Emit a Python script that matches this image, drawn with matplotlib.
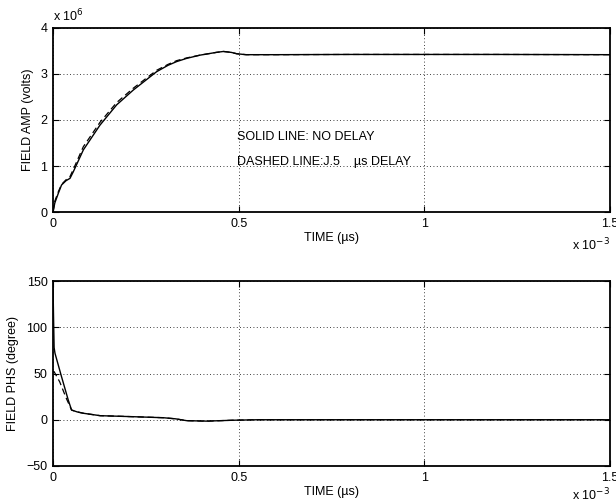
import matplotlib
matplotlib.use("Agg")
import matplotlib.pyplot as plt

plt.rcParams['font.family'] = ['Liberation Sans', 'DejaVu Sans']
plt.rcParams['font.size'] = 9

# Time in units of 1e-3 (as shown on the axis with "x 10^-3")
amp_t_solid = [0.0, 0.005, 0.0143, 0.023, 0.035, 0.0458, 0.0548, 0.0817, 0.1266, 0.1715,
               0.216, 0.279, 0.31, 0.333, 0.36, 0.396, 0.44, 0.459, 0.48, 0.495, 0.52, 0.6, 0.8, 1.0, 1.2, 1.5]
amp_v_solid = [0.0, 0.2, 0.406, 0.587, 0.68, 0.732, 0.877, 1.35, 1.89, 2.33,
               2.65, 3.05, 3.19, 3.27, 3.34, 3.41, 3.47, 3.49, 3.47, 3.44, 3.42, 3.42, 3.425, 3.425, 3.425, 3.42]
amp_t_dash = [0.0, 0.005, 0.0143, 0.023, 0.035, 0.0458, 0.0548, 0.0817, 0.1266, 0.1715,
              0.216, 0.279, 0.31, 0.333, 0.36, 0.396, 0.44, 0.459, 0.48, 0.495, 0.52, 0.6, 0.8, 1.0, 1.2, 1.5]
amp_v_dash = [0.0, 0.24, 0.44, 0.60, 0.70, 0.77, 0.93, 1.42, 1.95, 2.38,
              2.69, 3.08, 3.21, 3.29, 3.35, 3.41, 3.47, 3.49, 3.47, 3.44, 3.42, 3.42, 3.425, 3.425, 3.425, 3.42]

phs_t_solid = [0.0, 0.0015, 0.003, 0.0054, 0.023, 0.041, 0.050, 0.065, 0.082, 0.127, 0.216,
               0.297, 0.33, 0.36, 0.414, 0.486, 0.55, 0.8, 1.0, 1.5]
phs_v_solid = [145, 110, 78, 71.8, 46.5, 21.4, 10.5, 8.5, 7.0, 4.4, 3.3,
               2.2, 1.0, -1.0, -1.5, -0.5, 0.0, 0.0, 0.0, 0.0]
phs_t_dash = [0.0, 0.003, 0.018, 0.036, 0.050, 0.065, 0.082, 0.127, 0.216,
              0.297, 0.33, 0.36, 0.414, 0.486, 0.55, 0.8, 1.0, 1.5]
phs_v_dash = [52, 52, 41, 23, 10.5, 8.5, 7.0, 4.4, 3.3,
              2.2, 1.0, -1.0, -1.5, -0.5, 0.0, 0.0, 0.0, 0.0]

x_ticks = [0, 0.5, 1, 1.5]
x_tick_labels = ['0', '0.5', '1', '1.5']
amp_ticks = [0, 1, 2, 3, 4]
phs_ticks = [-50, 0, 50, 100, 150]
phs_tick_labels = ['\u221250', '0', '50', '100', '150']

W, H = 616, 504
fig = plt.figure(figsize=(W / 100, H / 100), dpi=100)

def px_axes(x0, y0, x1, y1):
    return fig.add_axes([x0 / W, 1 - y1 / H, (x1 - x0) / W, (y1 - y0) / H])

ax1 = px_axes(53, 28, 610, 212)
ax2 = px_axes(53, 281, 610, 466)

def style(ax, mult_offset):
    ax.set_xlim(0, 1.5)
    ax.set_xticks(x_ticks)
    ax.set_xticklabels(x_tick_labels)
    ax.tick_params(direction='in', top=True, right=True, length=4, width=0.8, pad=4, labelsize=9)
    ax.grid(True, linestyle=(0, (1, 3)), color='black', linewidth=0.6)
    for s in ax.spines.values():
        s.set_linewidth(1.3)
    ax.set_xlabel('TIME (\u00b5s)', fontsize=9, labelpad=2)
    ax.annotate(r'x 10$^{-3}$', xy=(1.0, 0.0), xycoords='axes fraction',
                xytext=(0, -mult_offset), textcoords='offset pixels',
                ha='right', va='top', fontsize=9, annotation_clip=False)

ax1.plot(amp_t_solid, amp_v_solid, color='black', linewidth=1.0)
ax1.plot(amp_t_dash, amp_v_dash, color='black', linewidth=0.9, linestyle=(0, (5, 3)))
ax1.set_ylim(0, 4)
ax1.set_yticks(amp_ticks)
style(ax1, 25)
ax1.set_ylabel('FIELD AMP (volts)', fontsize=9, labelpad=5)
ax1.annotate(r'x 10$^{6}$', xy=(0.0, 1.0), xycoords='axes fraction',
             xytext=(0, 4), textcoords='offset pixels',
             ha='left', va='bottom', fontsize=9, annotation_clip=False)
ax1.text(0.495, 1.63, 'SOLID LINE: NO DELAY', fontsize=9, va='center')
ax1.text(0.495, 1.09, 'DASHED LINE:J.5    \u00b5s DELAY', fontsize=9, va='center')

ax2.plot(phs_t_solid, phs_v_solid, color='black', linewidth=1.0)
ax2.plot(phs_t_dash, phs_v_dash, color='black', linewidth=0.9, linestyle=(0, (5, 3)))
ax2.set_ylim(-50, 150)
ax2.set_yticks(phs_ticks)
ax2.set_yticklabels(phs_tick_labels)
style(ax2, 21)
ax2.set_ylabel('FIELD PHS (degree)', fontsize=9, labelpad=5)

fig.savefig('out.png', dpi=100)
